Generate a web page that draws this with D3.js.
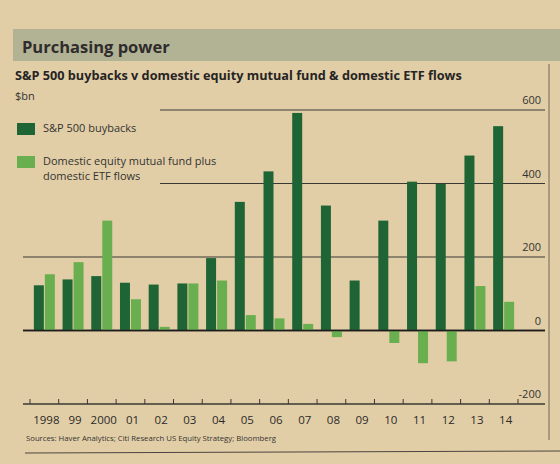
<!doctype html>
<html lang="en">
<head>
<meta charset="UTF-8">
<title>Purchasing power</title>
<script src="https://d3js.org/d3.v7.min.js"></script>
<style>
  html, body { margin: 0; padding: 0; background: #e2cea6; }
  svg { display: block; font-family: "Open Sans", "Noto Sans", sans-serif; }
</style>
</head>
<body>
<svg id="chart" width="560" height="464"></svg>
<script>
// values ($bn)
var years = ["1998", "1999", "2000", "2001", "2002", "2003", "2004", "2005", "2006",
             "2007", "2008", "2009", "2010", "2011", "2012", "2013", "2014"];
var yearLabels = ["1998", "99", "2000", "01", "02", "03", "04", "05", "06",
                  "07", "08", "09", "10", "11", "12", "13", "14"];
var buybacks = [123, 139, 148, 130, 125, 128, 197, 350, 433, 592, 340, 136, 299, 405, 399, 476, 556];
var fundFlows = [153, 186, 299, 85, 10, 128, 136, 42, 33, 18, -18, 1, -34, -89, -84, 121, 78];
var yTicks = [600, 400, 200, 0, -200];

var seriesNames = ["S&P 500 buybacks", "Domestic equity mutual fund plus|domestic ETF flows"];
var colors = ["#1f6435", "#6aaf4f"];

var svg = d3.select("#chart");
var W = 560, H = 464;

// paper
svg.append("rect").attr("width", W).attr("height", H).attr("fill", "#e2cea6");

// title band
svg.append("rect")
    .attr("x", 13).attr("y", 29)
    .attr("width", W - 13).attr("height", 32)
    .attr("fill", "#b2b294");
svg.append("text")
    .attr("x", 22).attr("y", 53)
    .attr("font-size", 16.5).attr("font-weight", 700)
    .attr("fill", "#2e2c2c")
    .text("Purchasing power");

svg.append("text")
    .attr("x", 15).attr("y", 80)
    .attr("font-size", 12.7).attr("font-weight", 700)
    .attr("fill", "#262424")
    .text("S&P 500 buybacks v domestic equity mutual fund & domestic ETF flows");
svg.append("text")
    .attr("x", 15).attr("y", 100)
    .attr("font-size", 11).attr("fill", "#333")
    .text("$bn");

// right-hand page rule
svg.append("line")
    .attr("x1", 549).attr("x2", 549).attr("y1", 64).attr("y2", 440)
    .attr("stroke", "#6e6658").attr("stroke-width", 1);

var x = d3.scaleBand().domain(years).range([30, 518]);
var y = d3.scaleLinear().domain([-200, 600]).range([404, 110]);

// gridlines; the two upper ones stop short of the legend
var grid = svg.append("g");
grid.selectAll("line")
    .data(yTicks)
    .join("line")
    .attr("x1", function(d) { return d >= 400 ? 160 : 23; })
    .attr("x2", 545)
    .attr("y1", function(d) { return y(d); })
    .attr("y2", function(d) { return y(d); })
    .attr("stroke", function(d) { return d === 0 ? "#1c1c1c" : "#3a3835"; })
    .attr("stroke-width", function(d) { return d === 0 || d === -200 ? 1.6 : 1.1; });

grid.selectAll("text")
    .data(yTicks)
    .join("text")
    .attr("x", 541)
    .attr("y", function(d) { return y(d) - 6; })
    .attr("text-anchor", "end")
    .attr("font-size", 11)
    .attr("fill", "#333")
    .text(function(d) { return d; });

// bars
var barW = 10, gap = 1;
var groups = svg.append("g").selectAll("g")
    .data(years)
    .join("g")
    .attr("transform", function(d) { return "translate(" + (x(d) + x.bandwidth() / 2) + ",0)"; });

[buybacks, fundFlows].forEach(function(vals, s) {
  groups.append("rect")
      .attr("x", s === 0 ? -barW - gap / 2 : gap / 2)
      .attr("width", barW)
      .attr("y", function(d, i) { return y(Math.max(0, vals[i])); })
      .attr("height", function(d, i) { return Math.abs(y(vals[i]) - y(0)); })
      .attr("fill", colors[s]);
});

// redraw zero line on top of the bars
svg.append("line")
    .attr("x1", 23).attr("x2", 545)
    .attr("y1", y(0)).attr("y2", y(0))
    .attr("stroke", "#1c1c1c").attr("stroke-width", 1.6);

// x axis on the -200 line, ticks pointing up
var xAxis = svg.append("g");
xAxis.selectAll("line")
    .data(d3.range(years.length + 1))
    .join("line")
    .attr("x1", function(i) { return x.range()[0] + i * x.step(); })
    .attr("x2", function(i) { return x.range()[0] + i * x.step(); })
    .attr("y1", y(-200))
    .attr("y2", y(-200) - 5)
    .attr("stroke", "#3a3835");
xAxis.selectAll("text")
    .data(years)
    .join("text")
    .attr("x", function(d) { return x(d) + x.bandwidth() / 2 + 2; })
    .attr("y", y(-200) + 20)
    .attr("text-anchor", "middle")
    .attr("font-size", 11.5)
    .attr("fill", "#2a2a2a")
    .text(function(d, i) { return yearLabels[i]; });

// legend
var legend = svg.append("g");
seriesNames.forEach(function(name, s) {
  var top = s === 0 ? 123 : 156;
  legend.append("rect")
      .attr("x", 17).attr("y", top)
      .attr("width", 18).attr("height", 12)
      .attr("fill", colors[s]);
  name.split("|").forEach(function(line, j) {
    legend.append("text")
        .attr("x", 43).attr("y", top + 9 + j * 15)
        .attr("font-size", 11)
        .attr("fill", "#333")
        .text(line);
  });
});

// source
svg.append("text")
    .attr("x", 26).attr("y", 441)
    .attr("font-size", 8)
    .attr("textLength", 250).attr("lengthAdjust", "spacingAndGlyphs")
    .attr("fill", "#333")
    .text("Sources: Haver Analytics; Citi Research US Equity Strategy; Bloomberg");
svg.append("line")
    .attr("x1", 25).attr("x2", 560).attr("y1", 453).attr("y2", 451)
    .attr("stroke", "#4a4640").attr("stroke-width", 1);
</script>
</body>
</html>
